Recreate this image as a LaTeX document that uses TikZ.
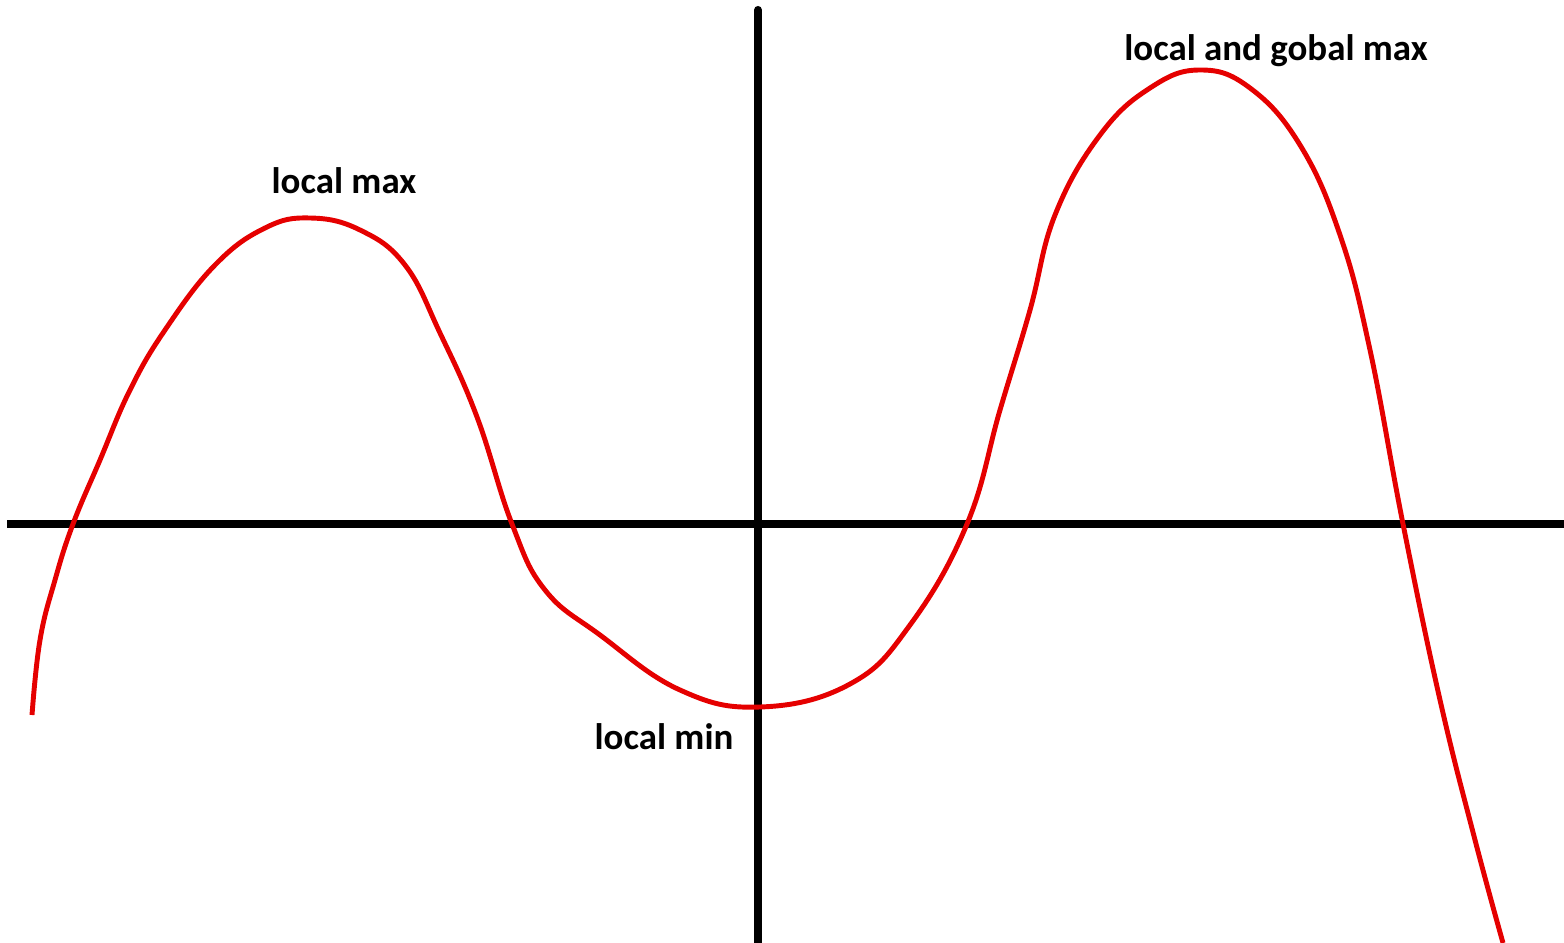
\documentclass[tikz,border=0pt]{standalone}
\usepackage{fontspec}
\setmainfont{Carlito}
\begin{document}
\begin{tikzpicture}[
  x=0.01cm, y=-0.01cm,
  axis/.style={line width=2.3pt, draw=black},
  curve/.style={line width=1.4pt, draw=red!90!black},
  lbl/.style={font=\bfseries\fontsize{10.5pt}{12pt}\selectfont, inner sep=0pt}
]
  \useasboundingbox (0,0) rectangle (1564,943);

  % Ejes
  \coordinate (xl) at (7,524);
  \coordinate (xr) at (1564,524);
  \coordinate (yt) at (758,10);
  \coordinate (yb) at (758,943);
  \draw[axis] (xl) -- (xr);
  \draw[axis, line cap=round] (yt) -- (yb);

  % Curva
  \draw[curve] plot[smooth, tension=0.7] coordinates {
    (32,715) (40,640) (55,580) (73,524) (100,460) (130,390) (165,330)
    (215,265) (265,228) (310,218) (360,230) (405,265) (440,333)
    (477,417) (512,524) (545,590) (600,635) (680,690) (760,707)
    (850,684) (910,625) (967,524) (1000,410) (1030,310) (1055,215)
    (1100,135) (1150,88) (1200,70) (1250,88) (1300,145) (1340,235)
    (1370,350) (1403,524) (1440,700) (1475,840) (1503,943)};

  % Etiquetas
  \node[lbl] (lmax) at (344,181) {local max};
  \node[lbl] (gmax) at (1276,51) {local and gobal max};
  \node[lbl] (lmin) at (664,737) {local min};
\end{tikzpicture}
\end{document}
